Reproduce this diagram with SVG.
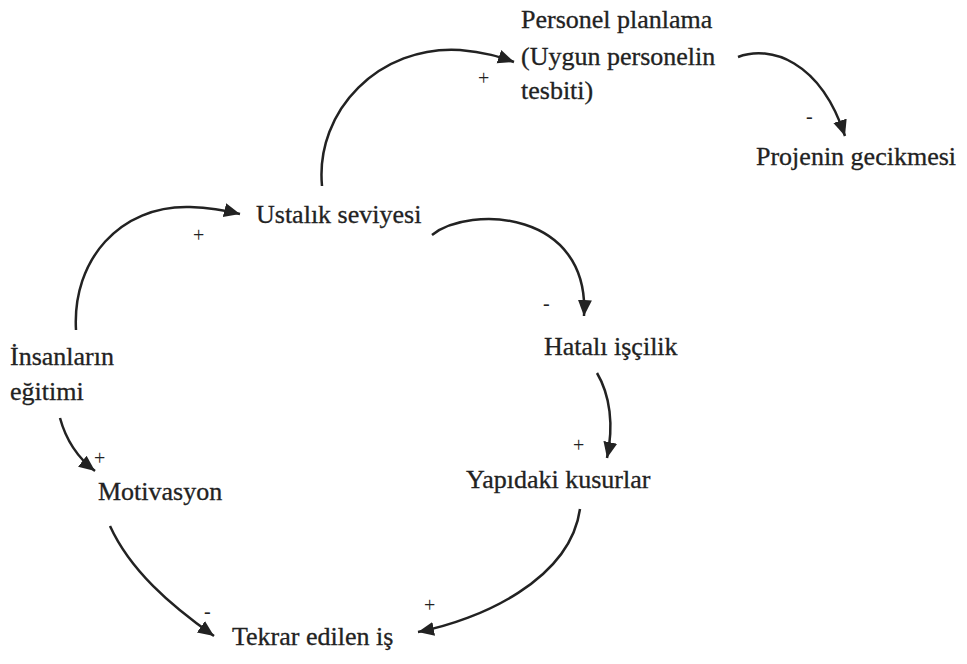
<svg xmlns="http://www.w3.org/2000/svg" width="967" height="664" viewBox="0 0 967 664">
<style>
.t{font-family:'Liberation Serif','Times New Roman','DejaVu Serif',serif;font-size:26px;fill:#222;stroke:#222;stroke-width:0.3}
.sign{font-size:20px;stroke-width:0}
.c{fill:none;stroke:#222;stroke-width:2.5}
</style>
<defs>
<marker id="ah" markerUnits="userSpaceOnUse" markerWidth="18" markerHeight="16" refX="16" refY="7" orient="auto">
<path d="M0,0 L16,7 L0,14 Z" fill="#222"/>
</marker>
</defs>
<rect width="967" height="664" fill="#fff"/>
<g id="connectors">
<path class="c" marker-end="url(#ah)" d="M76,330 C72,260 120,205 190,207 C215,208 228,211 240,214"/>
<path class="c" marker-end="url(#ah)" d="M322,186 C315,110 380,45 460,50 C485,52 500,57 514,62"/>
<path class="c" marker-end="url(#ah)" d="M738,57 C770,45 820,60 845,136"/>
<path class="c" marker-end="url(#ah)" d="M432,235 C470,205 590,210 584,316"/>
<path class="c" marker-end="url(#ah)" d="M597,373 C610,395 614,425 607,458"/>
<path class="c" marker-end="url(#ah)" d="M60,418 C66,440 78,458 95,471"/>
<path class="c" marker-end="url(#ah)" d="M110,526 C130,570 170,605 214,636"/>
<path class="c" marker-end="url(#ah)" d="M580,509 C570,580 480,620 418,632"/>
</g>
<g id="signs" class="t sign" font-family="Liberation Serif, serif">
<text x="193" y="242">+</text>
<text x="478" y="85">+</text>
<text x="806" y="123">-</text>
<text x="543" y="310">-</text>
<text x="573" y="452">+</text>
<text x="94" y="465">+</text>
<text x="204" y="618">-</text>
<text x="424" y="612">+</text>
</g>
<g class="t" font-family="Liberation Serif, serif">
<g id="personel"><text x="521" y="28">Personel planlama</text><text x="521" y="65">(Uygun personelin</text><text x="521" y="99">tesbiti)</text></g>
<g id="projenin"><text x="756" y="165">Projenin gecikmesi</text></g>
<g id="ustalik"><text x="256" y="223">Ustalık seviyesi</text></g>
<g id="hatali"><text x="544" y="355">Hatalı işçilik</text></g>
<g id="insanlarin"><text x="10" y="365">İnsanların</text><text x="10" y="400">eğitimi</text></g>
<g id="yapidaki"><text x="466" y="488">Yapıdaki kusurlar</text></g>
<g id="motivasyon"><text x="98" y="500">Motivasyon</text></g>
<g id="tekrar"><text x="232" y="645">Tekrar edilen iş</text></g>
</g>
</svg>
